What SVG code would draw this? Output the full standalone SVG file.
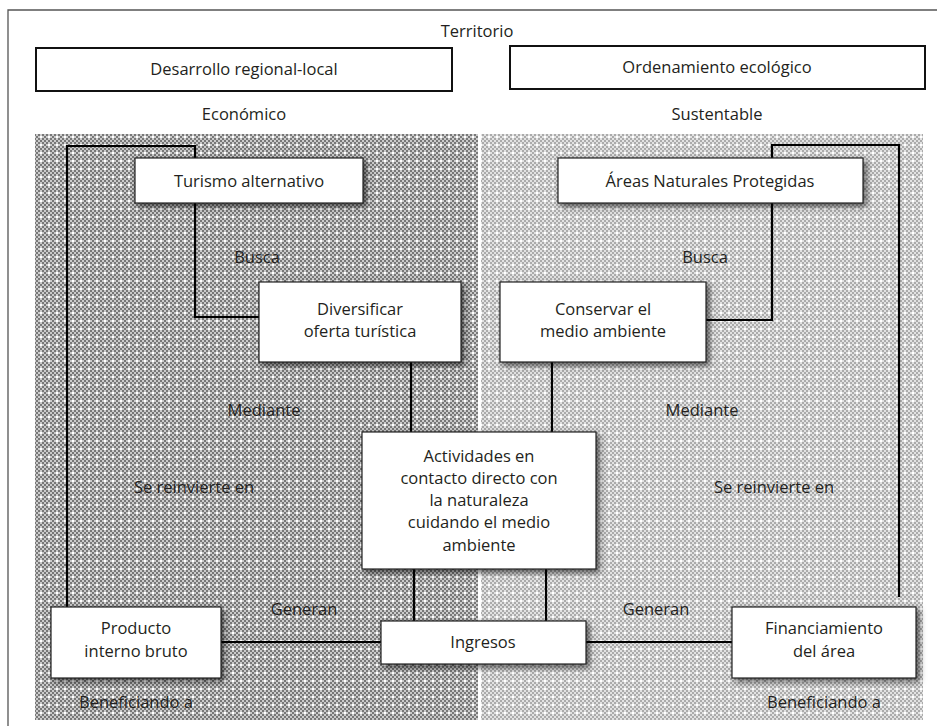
<svg xmlns="http://www.w3.org/2000/svg" width="937" height="726" viewBox="0 0 937 726">
<style>
text{font-family:"Open Sans","Liberation Sans",sans-serif;font-size:16.5px;fill:#231f20;text-anchor:middle}
.frame{fill:none;stroke:#555;stroke-width:1.3}
.hbox{fill:#fff;stroke:#111;stroke-width:2}
.box{fill:#fff;stroke:#222;stroke-width:1.2;filter:url(#sh)}
.conn path{fill:none;stroke:#000;stroke-width:2.2}
</style>
<defs>
<pattern id="pd" width="8" height="8" patternUnits="userSpaceOnUse">
<rect width="8" height="8" fill="#cbcbcb"/>
<path d="M0 0h2v2H0zM4 0h2v2H4zM2 2h2v2H2zM6 2h2v2H6zM0 4h2v2H0zM4 4h2v2H4zM2 6h2v2H2zM6 6h2v2H6z" fill="#787878"/>
<rect x="0" y="0" width="2" height="2" fill="#fff"/>
</pattern>
<pattern id="pl" width="8" height="8" patternUnits="userSpaceOnUse">
<rect width="8" height="8" fill="#e2e2e2"/>
<path d="M0 0h2v2H0zM4 0h2v2H4zM2 2h2v2H2zM6 2h2v2H6zM0 4h2v2H0zM4 4h2v2H4zM2 6h2v2H2zM6 6h2v2H6z" fill="#ababab"/>
<rect x="0" y="0" width="2" height="2" fill="#fff"/>
</pattern>
<filter id="sh" x="-20%" y="-20%" width="150%" height="160%">
<feDropShadow dx="3" dy="3" stdDeviation="3" flood-color="#000" flood-opacity="0.6"/>
</filter>
</defs>
<rect width="937" height="726" fill="#fff"/>
<path class="frame" d="M8 726V10H937"/>
<text x="477" y="37">Territorio</text>
<g id="desarrollo"><rect class="hbox" x="36" y="48" width="416" height="43"/><text x="244" y="75">Desarrollo regional-local</text></g>
<g id="ordenamiento"><rect class="hbox" x="510" y="46" width="415" height="43"/><text x="717" y="73">Ordenamiento ecológico</text></g>
<text x="244" y="120">Económico</text>
<text x="717" y="120">Sustentable</text>
<rect x="35" y="134" width="443" height="586" fill="url(#pd)"/>
<rect x="481" y="134" width="442" height="586" fill="url(#pl)"/>
<g class="conn">
<path d="M195 158V146H67V607"/>
<path d="M195 203V317H259"/>
<path d="M411 362V432"/>
<path d="M414 569V621"/>
<path d="M221 642H381"/>
<path d="M772 158V145H899V597"/>
<path d="M772 203V320H706"/>
<path d="M552 362V432"/>
<path d="M546 569V621"/>
<path d="M586 642H732"/>
</g>
<text x="257" y="263">Busca</text>
<text x="705" y="263">Busca</text>
<text x="264" y="416">Mediante</text>
<text x="702" y="416">Mediante</text>
<text x="194" y="493">Se reinvierte en</text>
<text x="774" y="493">Se reinvierte en</text>
<text x="304" y="615">Generan</text>
<text x="656" y="615">Generan</text>
<text x="136" y="708">Beneficiando a</text>
<text x="824" y="708">Beneficiando a</text>
<g id="turismo"><rect class="box" x="135" y="158" width="228" height="45"/><text x="249" y="187">Turismo alternativo</text></g>
<g id="areas"><rect class="box" x="558" y="158" width="305" height="45"/><text x="710" y="187">Áreas Naturales Protegidas</text></g>
<g id="diversificar"><rect class="box" x="259" y="282" width="202" height="80"/><text x="360" y="315">Diversificar</text><text x="360" y="337">oferta turística</text></g>
<g id="conservar"><rect class="box" x="500" y="282" width="206" height="80"/><text x="603" y="315">Conservar el</text><text x="603" y="337">medio ambiente</text></g>
<g id="actividades"><rect class="box" x="362" y="432" width="234" height="137"/>
<text x="479" y="462">Actividades en</text><text x="479" y="484">contacto directo con</text><text x="479" y="506">la naturaleza</text><text x="479" y="528">cuidando el medio</text><text x="479" y="551">ambiente</text></g>
<g id="producto"><rect class="box" x="51" y="607" width="170" height="71"/><text x="136" y="634">Producto</text><text x="136" y="657">interno bruto</text></g>
<g id="ingresos"><rect class="box" x="381" y="621" width="205" height="43"/><text x="483" y="648">Ingresos</text></g>
<g id="financiamiento"><rect class="box" x="732" y="607" width="184" height="71"/><text x="824" y="634">Financiamiento</text><text x="824" y="657">del área</text></g>
</svg>
